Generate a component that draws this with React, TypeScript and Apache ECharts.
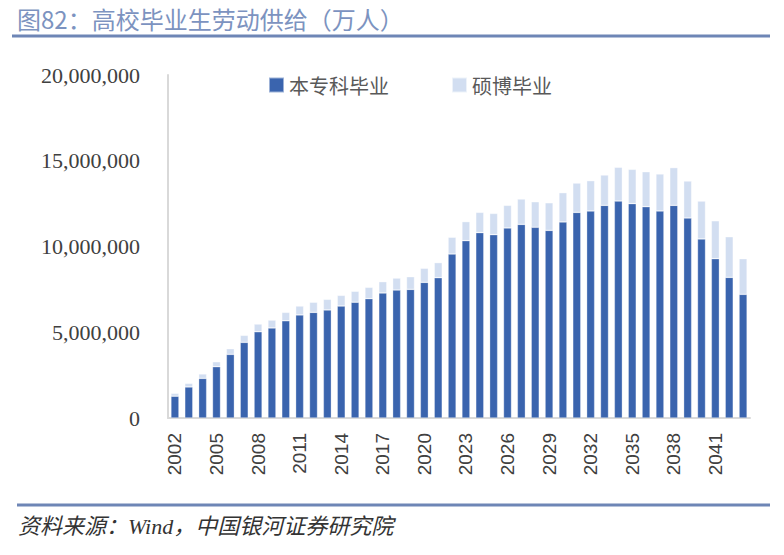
import React, { useEffect, useRef } from "react";
import * as echarts from "echarts";

const years: string[] = [];
for (let y = 2002; y <= 2043; y++) years.push(String(y));

// 本专科毕业 (persons)
const undergrad = [
  1270000, 1810000, 2310000, 2990000, 3710000, 4410000, 5030000, 5250000, 5670000, 6010000,
  6160000, 6300000, 6530000, 6750000, 6960000, 7290000, 7460000, 7500000, 7910000, 8180000,
  9560000, 10340000, 10810000, 10690000, 11080000, 11290000, 11120000, 10940000, 11430000, 11990000,
  12070000, 12400000, 12650000, 12500000, 12320000, 12070000, 12400000, 11660000, 10440000, 9290000,
  8200000, 7210000,
];

// 硕博毕业 (persons)
const postgrad = [
  170000, 210000, 260000, 290000, 330000, 410000, 450000, 460000, 490000, 520000,
  590000, 620000, 620000, 640000, 660000, 660000, 700000, 740000, 820000, 880000,
  980000, 1110000, 1180000, 1240000, 1320000, 1480000, 1490000, 1610000, 1710000, 1710000,
  1770000, 1770000, 1970000, 2000000, 2040000, 2160000, 2200000, 2160000, 2210000, 2210000,
  2370000, 2080000,
];

const yTicks = [0, 5000000, 10000000, 15000000, 20000000];

const seriesNames = ["本专科毕业", "硕博毕业"];
const colors = ["#3A64AE", "#D2DEF1"];

export default function App() {
  const ref = useRef<HTMLDivElement>(null);

  useEffect(() => {
    if (!ref.current) return;
    const chart = echarts.init(ref.current, undefined, { renderer: "svg" });
    chart.setOption({
      animation: false,
      backgroundColor: "#ffffff",
      grid: { left: 168, right: 34, top: 75, bottom: 137, containLabel: false },
      legend: {
        data: seriesNames,
        left: 263,
        top: 70,
        itemWidth: 15,
        itemHeight: 15,
        itemGap: 62,
        icon: "rect",
        textStyle: { fontSize: 20, color: "#595959", fontFamily: "Noto Sans CJK SC" },
      },
      xAxis: {
        type: "category",
        data: years,
        boundaryGap: true,
        axisLine: { show: true, lineStyle: { color: "#D9D9D9", width: 2 } },
        axisTick: { show: false },
        axisLabel: {
          interval: 2,
          rotate: 90,
          margin: 15,
          fontSize: 19,
          color: "#404040",
          fontFamily: "Liberation Sans",
        },
      },
      yAxis: {
        type: "value",
        min: 0,
        max: 20000000,
        interval: 5000000,
        splitLine: { show: false },
        axisTick: { show: false },
        axisLine: { show: true, lineStyle: { color: "#D9D9D9", width: 2 } },
        axisLabel: {
          margin: 28,
          fontSize: 22,
          color: "#404040",
          fontFamily: "Liberation Serif",
          formatter: (v: number) => (yTicks.includes(v) ? v.toLocaleString("en-US") : ""),
        },
      },
      series: [
        {
          name: seriesNames[0],
          type: "bar",
          stack: "total",
          data: undergrad,
          barWidth: 8,
          itemStyle: { color: colors[0], borderColor: "rgba(255,255,255,0.5)", borderWidth: 0.6 },
        },
        {
          name: seriesNames[1],
          type: "bar",
          stack: "total",
          data: postgrad,
          barWidth: 8,
          itemStyle: { color: colors[1], borderColor: "rgba(255,255,255,0.6)", borderWidth: 0.6 },
        },
      ],
      graphic: [
        {
          type: "text",
          left: 17,
          top: 6,
          style: {
            text: "图82：高校毕业生劳动供给（万人）",
            fontSize: 24,
            fill: "#7C93C0",
            fontFamily: "Noto Sans CJK SC",
          },
        },
        {
          type: "line",
          shape: { x1: 12, y1: 36, x2: 770, y2: 36 },
          style: { stroke: "#6E86B6", lineWidth: 3 },
        },
        {
          type: "line",
          shape: { x1: 17, y1: 505, x2: 770, y2: 505 },
          style: { stroke: "#6E86B6", lineWidth: 3 },
        },
        {
          type: "text",
          left: 18,
          top: 515,
          style: {
            text: "资料来源：Wind，中国银河证券研究院",
            fontSize: 22,
            fontStyle: "italic",
            fill: "#333333",
            fontFamily: "Liberation Serif, Noto Sans CJK SC",
          },
        },
      ],
    });
    return () => chart.dispose();
  }, []);

  return <div ref={ref} style={{ width: 784, height: 555, position: "absolute", left: 0, top: 0 }} />;
}
